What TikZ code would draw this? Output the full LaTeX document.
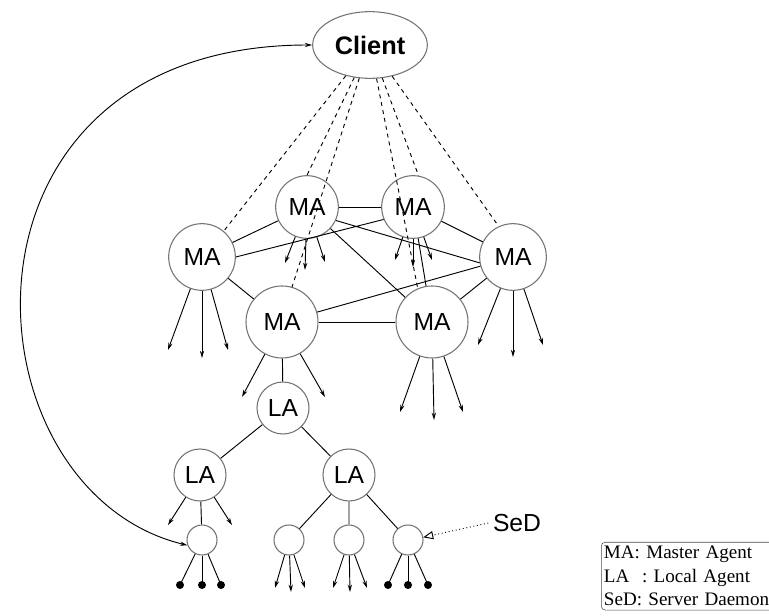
\documentclass[tikz,border=0pt]{standalone}
\usepackage{fontspec}
\setmainfont{Liberation Sans}
\newfontfamily\legendfont{Liberation Serif}
\usetikzlibrary{arrows,arrows.meta,shapes,positioning}

\begin{document}
\begin{tikzpicture}[x=0.75pt,y=-0.75pt,>={Stealth[length=5.5pt,width=3.2pt]},
    agent/.style={draw=black!55,line width=0.8pt,circle,inner sep=0pt,font=\fontsize{18.5}{20}\selectfont},
    sed/.style={draw=black!55,line width=0.8pt,circle,minimum size=22.5pt,inner sep=0pt},
    link/.style={line width=0.7pt},
    query/.style={line width=0.7pt,dashed},
    fan/.style={->,line width=0.7pt},
    dot/.style={fill,circle,inner sep=0pt,minimum size=6pt}]
    \useasboundingbox (0,0) rectangle (769,616);

    \node[draw=black!55,line width=0.8pt,ellipse,minimum width=86pt,minimum height=50pt,font=\bfseries\fontsize{19}{20}\selectfont] (client) at (370,45) {Client};

    % master agents
    \node[agent,minimum size=47pt] (tl) at (307,207) {MA};
    \node[agent,minimum size=47pt] (tr) at (413,207) {MA};
    \node[agent,minimum size=50pt] (l) at (202,257) {MA};
    \node[agent,minimum size=50pt] (r) at (513,257) {MA};
    \node[agent,minimum size=54pt] (ll) at (282,322) {MA};
    \node[agent,minimum size=54pt] (lr) at (432,322) {MA};

    % local agents
    \node[agent,minimum size=39pt] (la) at (283,408) {LA};
    \node[agent,minimum size=39pt] (la1) at (200,475) {LA};
    \node[agent,minimum size=39pt] (la2) at (349,475) {LA};

    % server daemons
    \node[sed] (sed1) at (202,540) {};
    \node[sed] (sed2) at (289,540) {};
    \node[sed] (sed3) at (349,540) {};
    \node[sed] (sed4) at (408,540) {};

    % links between the master agents
    \foreach \a/\b in {tl/tr,l/tl,tl/lr,tr/r,tr/lr,r/ll,l/ll,ll/lr,lr/r}
        \draw[link] (\a) -- (\b);
    \draw[link] (l.east) -- (tr.203) (tl.-25) -- (r.190);

    % client to every master agent
    \draw[query] (client) -- (l.50) (client) -- (tl.north) (client) -- (ll.74)
        (client) -- (lr.113) (client) -- (tr.80) (client) -- (r.115);

    % requests going down
    \foreach \n/\dx/\dy in {l/-34/93,l/0/101,l/26/93,r/-35/88,r/0/100,r/30/88,
        lr/-32/90,lr/2/98,lr/31/90,ll/-40/75,ll/43/75,tl/-22/56,tl/-2/63,tl/18/55,
        tr/-18/53,tr/0/60,tr/19/53,la1/-32/50,la1/32/50,
        sed2/-14/48,sed2/2/52,sed2/16/48,sed3/-16/48,sed3/1/52,sed3/18/48}
        \draw[fan] (\n) -- +(\dx,\dy);

    % hierarchy
    \draw[link] (ll) -- (la) (la) -- (la1) (la) -- (la2) (la1) -- (sed1)
        (la2) -- (sed2) (la2) -- (sed3) (la2) -- (sed4);

    \foreach \n/\dx/\i in {sed1/-22/a,sed1/0/b,sed1/19/c,sed4/-20/a,sed4/0/b,sed4/20/c}
        \draw[link] (\n) -- +(\dx,45) node[dot] (\n\i) {};

    \draw[link,<->] (client.west) .. controls (-65,45) and (-40,490) .. (sed1.200);

    \node[font=\fontsize{18.5}{20}\selectfont] (sedlabel) at (517,523) {SeD};
    \draw[dotted,line width=0.7pt,-open triangle 45] (sedlabel.west) -- (sed4.10);

    \node[draw=black!70,rounded corners=3pt,anchor=north west,align=left,
        inner xsep=2pt,inner ysep=3pt,text width=170pt,
        font=\legendfont\fontsize{14.3}{17.6}\selectfont] (legend) at (601,542)
        {MA: Master Agent\\LA~~: Local Agent\\SeD: Server Daemon};
\end{tikzpicture}
\end{document}
